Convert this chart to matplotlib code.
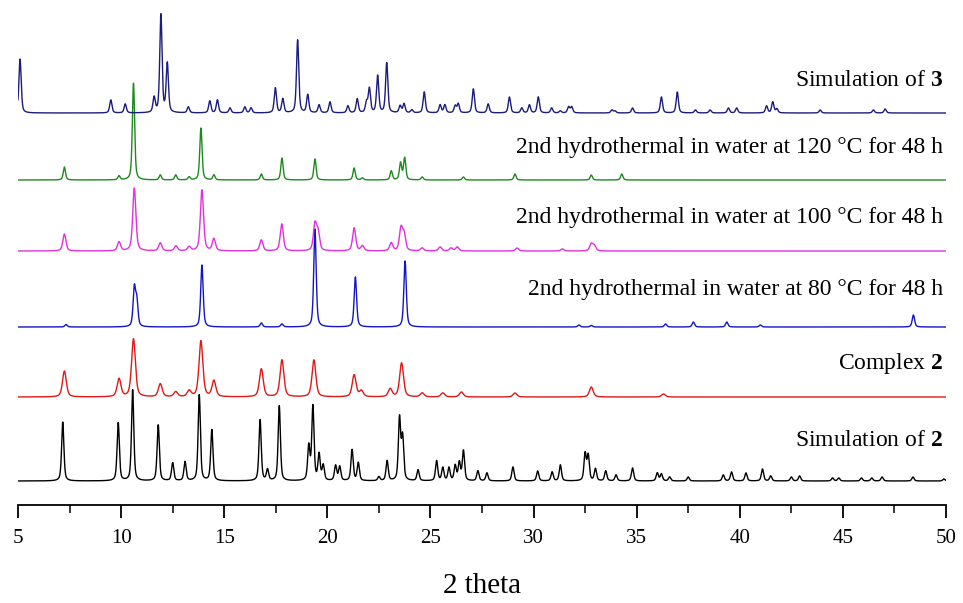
import numpy as np
import matplotlib
matplotlib.use("Agg")
import matplotlib.pyplot as plt
from matplotlib.ticker import MultipleLocator

plt.rcParams["font.family"] = ["Liberation Serif", "DejaVu Serif"]
plt.rcParams["mathtext.fontset"] = "custom"
plt.rcParams["mathtext.rm"] = "Liberation Serif"
plt.rcParams["mathtext.bf"] = "Liberation Serif:bold"

# ---- peak lists (2theta position, relative intensity) ----
sim2_pos = [7.17, 9.86, 10.56, 11.8, 12.5, 13.1, 13.79, 14.4, 16.74, 17.1, 17.67,
            19.1, 19.3, 19.6, 19.8, 20.4, 20.6, 21.2, 21.5, 22.5, 22.9, 23.5, 23.65,
            24.4, 25.3, 25.6, 25.9, 26.2, 26.4, 26.6, 27.3, 27.74, 29.0, 30.2, 30.9,
            31.3, 32.5, 32.65, 33.0, 33.5, 34.0, 34.8, 36.0, 36.2, 36.6, 37.5, 39.2,
            39.6, 40.3, 41.1, 41.5, 42.5, 42.9, 44.5, 44.8, 45.9, 46.4, 46.9, 48.4, 49.9]
sim2_int = [59, 58, 91, 56, 18, 19, 86, 51, 61, 11, 75,
            34, 74, 26, 15, 15, 14, 31, 18, 4, 20, 62, 43,
            11, 20, 13, 13, 15, 18, 30, 10, 8, 14, 10, 9,
            16, 27, 25, 12, 10, 6, 13, 8, 7, 4, 4, 6,
            9, 8, 12, 5, 4, 5, 3, 3, 3, 3, 4, 4, 2]

cx2_pos = [7.25, 9.9, 10.6, 11.9, 12.65, 13.3, 13.87, 14.5, 16.8, 17.8, 19.35,
           21.3, 21.65, 23.05, 23.6, 24.6, 25.6, 26.5, 29.1, 32.8, 36.3]
cx2_int = [26, 18, 58, 13, 5, 6, 56, 16, 28, 37, 37,
           22, 6, 8, 34, 4, 4, 5, 4, 10, 3]

t80_pos = [7.33, 10.64, 10.76, 13.92, 16.8, 17.8, 19.4, 21.36, 23.77,
           32.2, 32.8, 36.4, 37.75, 39.37, 41.0, 48.42]
t80_int = [2.5, 38, 25, 62, 4, 3, 98, 50, 66,
           2, 1.5, 3, 5, 5, 2, 12]

t100_pos = [7.25, 9.9, 10.64, 11.9, 12.66, 13.3, 13.92, 14.5, 16.8, 17.79, 19.4, 19.55,
            21.3, 21.7, 23.1, 23.57, 23.72, 24.6, 25.47, 26.0, 26.3, 29.2, 31.4, 32.8, 32.95]
t100_int = [17, 9, 63, 8, 5, 4, 61, 12, 11, 27, 26, 18,
            23, 5, 8, 22, 16, 3, 4, 3, 4, 3, 2, 7, 5]

t120_pos = [7.25, 9.9, 10.6, 11.9, 12.65, 13.3, 13.87, 14.5, 16.8, 17.8, 19.4,
            21.3, 21.7, 23.1, 23.55, 23.75, 24.6, 26.6, 29.1, 32.8, 34.28]
t120_int = [13, 4, 97, 5, 5, 3, 52, 5, 6, 22, 21,
            12, 2, 9, 17, 22, 3, 3, 6, 5, 6]

sim3_pos = [5.1, 9.5, 10.2, 11.6, 11.93, 12.24, 13.26, 14.3, 14.67, 15.28, 16.0, 16.3,
            17.48, 17.84, 18.56, 19.05, 19.6, 20.13, 21.0, 21.45, 21.9, 22.04, 22.44,
            22.88, 23.53, 23.72, 24.1, 24.7, 25.47, 25.7, 26.2, 26.35, 27.08, 27.8,
            28.83, 29.43, 29.8, 30.23, 30.88, 31.3, 31.7, 31.85, 33.8, 33.95, 34.8,
            36.2, 36.97, 37.85, 38.56, 39.45, 39.85, 41.3, 41.6, 41.8, 43.9, 46.48, 47.05]
sim3_int = [54, 13, 9, 15, 98, 49, 6, 12, 13, 5, 6, 5,
            25, 14, 73, 18, 8, 11, 7, 14, 10, 24, 37,
            50, 7, 9, 3, 21, 8, 8, 7, 9, 24, 9,
            16, 5, 8, 16, 5, 2, 6, 6, 3, 2, 5,
            16, 21, 3, 3, 5, 5, 7, 11, 4, 3, 3, 4]

labels = ["Simulation of $\\mathbf{2}$", "Complex $\\mathbf{2}$",
          "2nd hydrothermal in water at 80 \u00b0C for 48 h",
          "2nd hydrothermal in water at 100 \u00b0C for 48 h",
          "2nd hydrothermal in water at 120 \u00b0C for 48 h",
          "Simulation of $\\mathbf{3}$"]

# vertical stacking offsets, peak widths, colours and label heights
offsets = [24, 108, 178, 254, 325, 392]
widths = [0.13, 0.22, 0.14, 0.18, 0.13, 0.13]
colors = ["#000000", "#e01818", "#1414c8", "#e030e0", "#1e8a1e", "#1c1c7c"]
label_y = [65, 142, 215, 288, 357, 425]

series = [(sim2_pos, sim2_int), (cx2_pos, cx2_int), (t80_pos, t80_int),
          (t100_pos, t100_int), (t120_pos, t120_int), (sim3_pos, sim3_int)]

tt = np.linspace(5, 50, 6000)


def pattern(pos, inten, fwhm):
    y = np.zeros_like(tt)
    g = fwhm / 2.0
    for p, h in zip(pos, inten):
        d = tt - p
        lor = 1.0 / (1.0 + (d / g) ** 2)
        gau = np.exp(-np.log(2) * (d / g) ** 2)
        y += h * (0.5 * lor + 0.5 * gau)
    return y


fig = plt.figure(figsize=(9.63, 6.03), dpi=100)
ax = fig.add_axes([18 / 963, 1 - 505 / 603, (946 - 18) / 963, 505 / 603])

for (pos, inten), off, w, c in zip(series, offsets, widths, colors):
    ax.plot(tt, pattern(pos, inten, w) + off, color=c, lw=1.0)

for lab, ly in zip(labels, label_y):
    ax.text(49.85, ly, lab, ha="right", va="center", fontsize=17, color="black")

ax.set_xlim(5, 50)
ax.set_ylim(0, 505)
for s in ("top", "left", "right"):
    ax.spines[s].set_visible(False)
ax.spines["bottom"].set_linewidth(1.3)
ax.set_yticks([])
ax.xaxis.set_major_locator(MultipleLocator(5))
ax.xaxis.set_minor_locator(MultipleLocator(2.5))
ax.tick_params(axis="x", which="major", direction="out", length=9.5, width=1.3,
               labelsize=15, pad=8)
ax.tick_params(axis="x", which="minor", direction="out", length=6, width=1.1)
ax.set_xlabel("2 theta", fontsize=21, labelpad=18)
ax.patch.set_visible(False)

fig.savefig("out.png", dpi=100)
